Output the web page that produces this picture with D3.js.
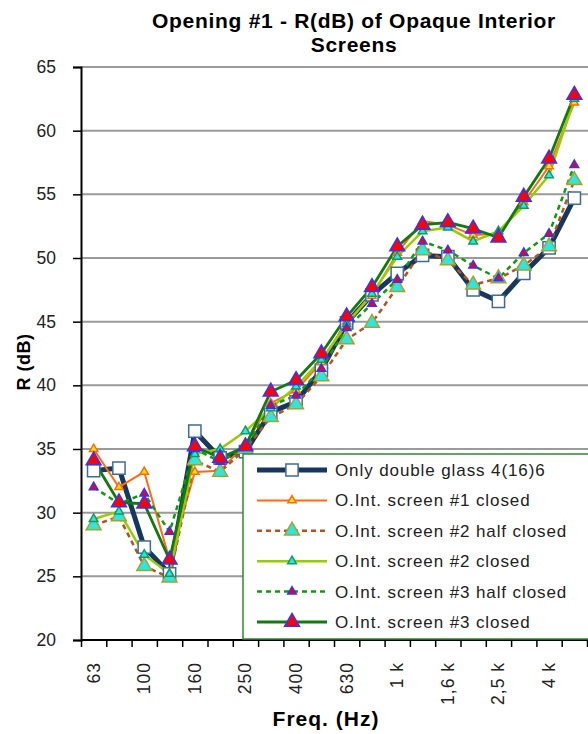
<!DOCTYPE html>
<html>
<head>
<meta charset="utf-8">
<script src="https://cdn.jsdelivr.net/npm/d3@7"></script>
<style>
  body { margin: 0; background: #fff; }
  text { font-family: "Liberation Sans", Arial, sans-serif; }
</style>
</head>
<body>
<div id="chart"></div>
<script>
var w = 588;
var h = 734;

// frequencies (1/3 octave bands)
var freqs = ["63", "80", "100", "125", "160", "200", "250", "315", "400", "500", "630", "800",
             "1 k", "1,25 k", "1,6 k", "2 k", "2,5 k", "3,15 k", "4 k", "5 k"];
var shownLabels = ["63", "100", "160", "250", "400", "630", "1 k", "1,6 k", "2,5 k", "4 k"];
var yTicks = [20, 25, 30, 35, 40, 45, 50, 55, 60, 65];

var glass    = [33.3, 33.5, 27.3, 25.2, 36.4, 34.3, 34.8, 37.9, 38.7, 41.2, 44.9, 47.1, 48.8, 50.2, 50.1, 47.5, 46.6, 48.8, 50.8, 54.7];
var s1closed = [35.0, 32.0, 33.2, 26.3, 33.2, 33.3, 35.4, 38.6, 39.6, 41.8, 45.0, 47.0, 50.4, 52.9, 52.6, 51.8, 51.9, 54.4, 57.2, 62.2];
var s2half   = [29.0, 29.7, 25.8, 24.9, 34.1, 33.2, 35.0, 37.5, 38.5, 40.7, 43.6, 44.9, 47.7, 50.6, 49.8, 47.9, 48.4, 49.4, 50.9, 56.1];
var s2closed = [29.5, 30.1, 26.7, 25.2, 34.6, 35.0, 36.4, 38.2, 39.9, 42.0, 44.8, 47.2, 50.1, 52.1, 52.4, 51.3, 52.1, 54.1, 56.5, 62.5];
var s3half   = [32.0, 30.7, 31.5, 28.5, 35.0, 34.0, 35.1, 38.4, 39.2, 41.3, 44.5, 46.4, 48.3, 51.3, 50.6, 49.4, 48.4, 50.4, 51.9, 57.3];
var s3closed = [34.1, 30.8, 30.7, 26.3, 35.2, 34.3, 35.2, 39.5, 40.4, 42.5, 45.4, 47.7, 50.9, 52.6, 52.8, 52.3, 51.6, 54.8, 57.8, 62.8];

var series = [
  {name: "Only double glass 4(16)6", values: glass, color: "#17375E", width: 5, dash: null,
   symbol: d3.symbolSquare, size: 150, fill: "#fff", stroke: "#3F6B9B"},
  {name: "O.Int. screen #1 closed", values: s1closed, color: "#FF6A13", width: 2, dash: null,
   symbol: d3.symbolTriangle, size: 30, fill: "#FFE600", stroke: "#FF6A13"},
  {name: "O.Int. screen #2 half closed", values: s2half, color: "#B5531F", width: 2.5, dash: "5,4",
   symbol: d3.symbolTriangle, size: 95, fill: "#2EE6E0", stroke: "#A3A32E"},
  {name: "O.Int. screen #2 closed", values: s2closed, color: "#99CC00", width: 2.5, dash: null,
   symbol: d3.symbolTriangle, size: 32, fill: "#2EE6E0", stroke: "#119966"},
  {name: "O.Int. screen #3 half closed", values: s3half, color: "#109A10", width: 2.5, dash: "5,4",
   symbol: d3.symbolTriangle, size: 32, fill: "#FF0000", stroke: "#3333FF"},
  {name: "O.Int. screen #3 closed", values: s3closed, color: "#107A10", width: 2.8, dash: null,
   symbol: d3.symbolTriangle, size: 95, fill: "#FF0000", stroke: "#3333FF"}
];

var plotLeft = 81, plotRight = 587, plotTop = 67, plotBottom = 640;

var svg = d3.select("#chart")
            .append("svg")
            .attr("width", w)
            .attr("height", h);

var xScale = d3.scaleBand()
    .domain(freqs)
    .range([plotLeft, plotRight])
    .padding(0);
var xEdge = d3.scaleLinear()
    .domain([0, freqs.length])
    .range([plotLeft, plotRight]);
var yScale = d3.scaleLinear()
    .domain([20, 65])
    .range([plotBottom, plotTop]);

// gridlines
svg.append("g")
    .selectAll("line")
    .data(yTicks.filter(function(d) { return d > 20; }))
    .enter()
    .append("line")
    .attr("x1", plotLeft)
    .attr("x2", w)
    .attr("y1", function(d) { return yScale(d); })
    .attr("y2", function(d) { return yScale(d); })
    .attr("stroke", "#9a9a9a")
    .attr("stroke-width", 2);

// y axis
var yAxis = d3.axisLeft(yScale)
    .tickValues(yTicks)
    .tickSize(8)
    .tickPadding(17);
var gy = svg.append("g")
    .attr("transform", "translate(" + plotLeft + ",0)")
    .call(yAxis);
gy.select(".domain").attr("stroke", "#000").attr("stroke-width", 2);
gy.selectAll(".tick line").attr("stroke", "#000").attr("stroke-width", 1.5);
gy.selectAll("text")
    .style("font-size", "17.5px")
    .style("font-family", "'Liberation Sans', Arial, sans-serif")
    .attr("fill", "#222");

// x axis: ticks at band edges
var xAxis = d3.axisBottom(xEdge)
    .tickValues(d3.range(freqs.length + 1))
    .tickSize(7)
    .tickFormat("");
var gx = svg.append("g")
    .attr("transform", "translate(0," + plotBottom + ")")
    .call(xAxis);
gx.select(".domain").attr("stroke", "#000").attr("stroke-width", 2).attr("d", "M" + plotLeft + ",0H" + w);
gx.selectAll(".tick line").attr("stroke", "#000").attr("stroke-width", 1.5);

// x labels (every other band), rotated
svg.append("g")
    .selectAll("text")
    .data(shownLabels)
    .enter()
    .append("text")
    .attr("transform", function(d) {
        return "translate(" + (xScale(d) + xScale.bandwidth() / 2 + 6) + "," + 662 + ") rotate(-90)";
    })
    .attr("text-anchor", "end")
    .style("font-size", "17.5px")
    .style("letter-spacing", "1px")
    .attr("fill", "#222")
    .text(function(d) { return d; });

// lines
var line = d3.line()
    .x(function(d, i) { return xScale(freqs[i]) + xScale.bandwidth() / 2; })
    .y(function(d) { return yScale(d); });

series.forEach(function(s) {
    svg.append("path")
        .datum(s.values)
        .attr("d", line)
        .attr("fill", "none")
        .attr("stroke", s.color)
        .attr("stroke-width", s.width)
        .attr("stroke-dasharray", s.dash)
        .attr("stroke-linejoin", "round");
});

// markers
series.forEach(function(s) {
    svg.append("g")
        .selectAll("path")
        .data(s.values)
        .enter()
        .append("path")
        .attr("d", d3.symbol().type(s.symbol).size(s.size))
        .attr("transform", function(d, i) {
            return "translate(" + (xScale(freqs[i]) + xScale.bandwidth() / 2) + "," + yScale(d) + ")";
        })
        .attr("fill", s.fill)
        .attr("stroke", s.stroke)
        .attr("stroke-width", 1.5);
});

// legend
var legend = svg.append("g");
legend.append("rect")
    .attr("x", 243)
    .attr("y", 454)
    .attr("width", 360)
    .attr("height", 185)
    .attr("fill", "#fff")
    .attr("stroke", "#2E8B2E")
    .attr("stroke-width", 1.5);

var rows = legend.selectAll(".row")
    .data(series)
    .enter()
    .append("g")
    .attr("transform", function(d, i) { return "translate(0," + (470 + i * 30.4) + ")"; });
rows.append("line")
    .attr("x1", 257)
    .attr("x2", 327)
    .attr("stroke", function(d) { return d.color; })
    .attr("stroke-width", function(d) { return d.width; })
    .attr("stroke-dasharray", function(d) { return d.dash; });
rows.append("path")
    .attr("d", function(d) { return d3.symbol().type(d.symbol).size(d.size)(); })
    .attr("transform", "translate(292,0)")
    .attr("fill", function(d) { return d.fill; })
    .attr("stroke", function(d) { return d.stroke; })
    .attr("stroke-width", 1.5);
rows.append("text")
    .attr("x", 335)
    .attr("y", 6)
    .style("font-size", "17px")
    .style("letter-spacing", "0.9px")
    .attr("fill", "#222")
    .text(function(d) { return d.name; });

// titles
svg.append("text")
    .attr("x", 354)
    .attr("y", 28)
    .attr("text-anchor", "middle")
    .style("font-size", "21px")
    .style("font-weight", "bold")
    .style("letter-spacing", "0.7px")
    .text("Opening #1 - R(dB) of Opaque Interior");
svg.append("text")
    .attr("x", 354)
    .attr("y", 52)
    .attr("text-anchor", "middle")
    .style("font-size", "21px")
    .style("font-weight", "bold")
    .style("letter-spacing", "0.7px")
    .text("Screens");

svg.append("text")
    .attr("transform", "translate(30,362) rotate(-90)")
    .attr("text-anchor", "middle")
    .style("font-size", "18px")
    .style("font-weight", "bold")
    .style("letter-spacing", "0.5px")
    .text("R (dB)");

svg.append("text")
    .attr("x", 326)
    .attr("y", 726)
    .attr("text-anchor", "middle")
    .style("font-size", "21px")
    .style("font-weight", "bold")
    .style("letter-spacing", "1px")
    .text("Freq. (Hz)");
</script>
</body>
</html>
